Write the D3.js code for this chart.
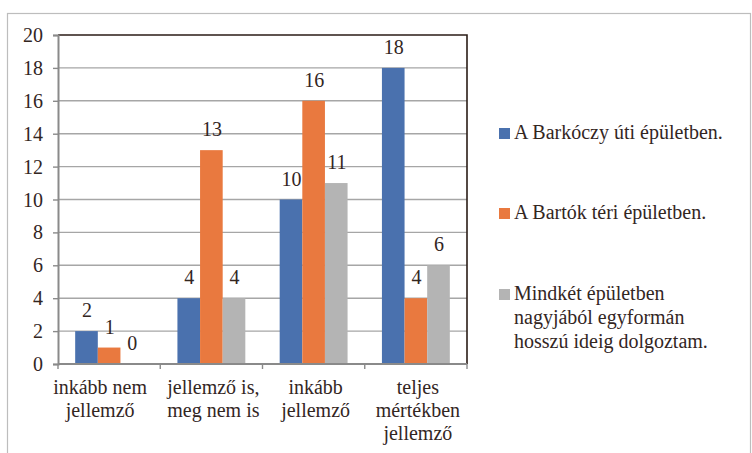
<!DOCTYPE html>
<html>
<head>
<meta charset="utf-8">
<script src="https://cdnjs.cloudflare.com/ajax/libs/d3/7.8.5/d3.min.js"></script>
</head>
<body style="margin:0">
<div id="chart"></div>
<script>
// data
var categories = ['inkább nem jellemző', 'jellemző is, meg nem is', 'inkább jellemző', 'teljes mértékben jellemző'];
var category_lines = [
  ['inkább nem', 'jellemző'],
  ['jellemző is,', 'meg nem is'],
  ['inkább', 'jellemző'],
  ['teljes', 'mértékben', 'jellemző']
];
var series_names = ['A Barkóczy úti épületben.', 'A Bartók téri épületben.', 'Mindkét épületben nagyjából egyformán hosszú ideig dolgoztam.'];
var legend_lines = [
  ['A Barkóczy úti épületben.'],
  ['A Bartók téri épületben.'],
  ['Mindkét épületben', 'nagyjából egyformán', 'hosszú ideig dolgoztam.']
];
var barkoczy = [2, 4, 10, 18];
var bartok   = [1, 13, 16, 4];
var mindketto = [0, 4, 11, 6];
var y_ticks = [0, 2, 4, 6, 8, 10, 12, 14, 16, 18, 20];
var colors = ['#4a71ae', '#e9793f', '#b4b4b4'];

var chart_width  = 752;
var chart_height = 453;
var plot = { left: 58, top: 35, right: 467, bottom: 364 };
var text_color = '#33261f';

var svg = d3.select('#chart')
    .append('svg')
    .attr('width', chart_width)
    .attr('height', chart_height);

// text goes straight onto the svg, single family name, 20px
function serif_text(sel){
  sel.style('font-family', "'Liberation Serif'")
     .style('font-size', '20px')
     .attr('fill', text_color);
}

// outer frame
svg.append('rect')
    .attr('x', 7.5)
    .attr('y', 13.5)
    .attr('width', 743)
    .attr('height', 460)
    .attr('fill', 'none')
    .attr('stroke', '#bdbdbd')
    .attr('stroke-width', 1.2);

// scales
var x0 = d3.scaleBand()
    .domain(categories)
    .range([plot.left, plot.right]);

var gap = x0.bandwidth() * 0.168;
var x1 = d3.scaleBand()
    .domain(d3.range(series_names.length))
    .range([gap, x0.bandwidth() - gap]);

var y = d3.scaleLinear()
    .domain([0, 20])
    .range([plot.bottom, plot.top]);

// gridlines
svg.selectAll('.grid')
    .data(y_ticks.slice(1, -1))
    .enter()
    .append('line')
    .attr('class', 'grid')
    .attr('x1', plot.left)
    .attr('x2', plot.right)
    .attr('y1', function(d){ return y(d); })
    .attr('y2', function(d){ return y(d); })
    .attr('stroke', '#a6a6a6')
    .attr('stroke-width', 1.4);

// top and right border of plot
svg.append('path')
    .attr('d', 'M' + plot.left + ',' + y(20) + 'H' + plot.right + 'V' + plot.bottom)
    .attr('fill', 'none')
    .attr('stroke', '#2b1d17')
    .attr('stroke-width', 1.6);

// bars
var series = [barkoczy, bartok, mindketto];
var rows = [];
series.forEach(function(vals, s){
  vals.forEach(function(v, i){
    rows.push({ s: s, cat: categories[i], v: v });
  });
});

svg.selectAll('.bar')
    .data(rows)
    .enter()
    .append('rect')
    .attr('class', 'bar')
    .attr('x', function(d){ return x0(d.cat) + x1(d.s); })
    .attr('y', function(d){ return y(d.v); })
    .attr('width', x1.bandwidth())
    .attr('height', function(d){ return y(0) - y(d.v); })
    .attr('fill', function(d){ return colors[d.s]; });

// value labels
svg.selectAll('.value')
    .data(rows)
    .enter()
    .append('text')
    .attr('class', 'value')
    .text(function(d){ return d.v; })
    .attr('x', function(d){ return x0(d.cat) + x1(d.s) + x1.bandwidth() / 2 + 0.6; })
    .attr('y', function(d){ return y(d.v) - 14; })
    .attr('text-anchor', 'middle')
    .call(serif_text);

// y axis: line and ticks from d3, labels drawn separately
var y_axis = svg.append('g')
    .attr('transform', 'translate(' + plot.left + ',0)')
    .call(d3.axisLeft(y).tickValues(y_ticks).tickSize(5).tickFormat(''));
y_axis.select('.domain').attr('stroke', '#8a8a8a').attr('stroke-width', 2);
y_axis.selectAll('.tick line').attr('stroke', '#8a8a8a').attr('stroke-width', 1.4);

svg.selectAll('.ylab')
    .data(y_ticks)
    .enter()
    .append('text')
    .attr('class', 'ylab')
    .text(function(d){ return d; })
    .attr('x', plot.left - 15)
    .attr('y', function(d){ return y(d) + 7; })
    .attr('text-anchor', 'end')
    .call(serif_text);

// x axis
svg.append('line')
    .attr('x1', plot.left)
    .attr('x2', plot.right)
    .attr('y1', plot.bottom)
    .attr('y2', plot.bottom)
    .attr('stroke', '#8a8a8a')
    .attr('stroke-width', 2);
svg.selectAll('.sep')
    .data(categories.concat(['end']))
    .enter()
    .append('line')
    .attr('class', 'sep')
    .attr('x1', function(d, i){ return plot.left + i * x0.bandwidth(); })
    .attr('x2', function(d, i){ return plot.left + i * x0.bandwidth(); })
    .attr('y1', plot.bottom)
    .attr('y2', plot.bottom + 5)
    .attr('stroke', '#8a8a8a')
    .attr('stroke-width', 1.4);

var cat_x = categories.map(function(d, i){
  var shift = i === 0 ? -9 : 2;
  return x0(d) + x0.bandwidth() / 2 + shift;
});
var cat_labels = svg.selectAll('.cat')
    .data(categories)
    .enter()
    .append('text')
    .attr('class', 'cat')
    .attr('text-anchor', 'middle')
    .call(serif_text);
cat_labels.selectAll('tspan')
    .data(function(d, i){
      return category_lines[i].map(function(t){ return { t: t, x: cat_x[i] }; });
    })
    .enter()
    .append('tspan')
    .attr('x', function(d){ return d.x; })
    .attr('y', function(d, i){ return plot.bottom + 30 + i * 23; })
    .text(function(d){ return d.t; });

// legend
var legend_y = [139, 219, 300];
svg.selectAll('.key')
    .data(series_names)
    .enter()
    .append('rect')
    .attr('class', 'key')
    .attr('x', 499)
    .attr('y', function(d, i){ return legend_y[i] - 11; })
    .attr('width', 11)
    .attr('height', 11)
    .attr('fill', function(d, i){ return colors[i]; });

var legend_text = svg.selectAll('.legend')
    .data(series_names)
    .enter()
    .append('text')
    .attr('class', 'legend')
    .call(serif_text);
legend_text.selectAll('tspan')
    .data(function(d, i){
      return legend_lines[i].map(function(t){ return { t: t, y0: legend_y[i] }; });
    })
    .enter()
    .append('tspan')
    .attr('x', 514)
    .attr('y', function(d, i){ return d.y0 + i * 24; })
    .text(function(d){ return d.t; });
</script>
</body>
</html>
